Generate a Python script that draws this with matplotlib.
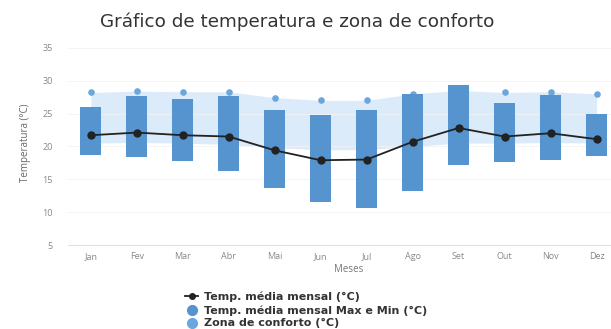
import matplotlib
matplotlib.use("Agg")
import matplotlib.pyplot as plt
from matplotlib.lines import Line2D
import numpy as np

plt.rcParams['font.family'] = ['Open Sans', 'DejaVu Sans']

meses = ['Jan', 'Fev', 'Mar', 'Abr', 'Mai', 'Jun', 'Jul', 'Ago', 'Set', 'Out', 'Nov', 'Dez']
temp_media = [21.7, 22.1, 21.7, 21.5, 19.4, 17.9, 18.0, 20.7, 22.8, 21.5, 22.0, 21.1]
temp_max = [26.0, 27.6, 27.2, 27.6, 25.6, 24.8, 25.5, 27.9, 29.3, 26.6, 27.8, 25.0]
temp_min = [18.7, 18.4, 17.8, 16.2, 13.7, 11.5, 10.6, 13.2, 17.2, 17.6, 18.0, 18.6]
conforto_sup = [28.2, 28.4, 28.3, 28.3, 27.4, 27.0, 27.0, 28.0, 28.5, 28.2, 28.3, 28.0]
conforto_inf = [20.5, 20.6, 20.5, 20.3, 19.8, 19.5, 19.5, 20.0, 20.5, 20.5, 20.6, 20.5]

cor_barra = '#5694d0'
cor_conforto = '#dcebf9'
cor_ponto = '#6aa6e0'

fig = plt.figure(figsize=(6.11, 3.29), dpi=100)
ax = fig.add_axes([0.111, 0.255, 0.918, 0.62])

x = np.arange(len(meses))

# zona de conforto
ax.fill_between(x, conforto_inf, conforto_sup, color=cor_conforto, lw=0, zorder=1)
ax.scatter(x, conforto_sup, s=14, color=cor_ponto, zorder=2)

# barras max/min
ax.bar(x, np.array(temp_max) - np.array(temp_min), bottom=temp_min, width=0.45,
       color=cor_barra, zorder=3)

# temperatura média
ax.plot(x, temp_media, color='#222222', lw=1.3, marker='o', ms=5, zorder=4)

ax.set_xlim(-0.5, len(meses) - 0.3)
ax.set_ylim(5, 36)
ax.set_yticks([5, 10, 15, 20, 25, 30, 35])
ax.set_xticks(x)
ax.set_xticklabels(meses)
ax.tick_params(axis='both', length=0, labelsize=6.5, colors='#888888')
ax.tick_params(axis='x', pad=5)
ax.tick_params(axis='y', pad=11)
ax.grid(axis='y', color='#f2f2f2', lw=0.6, zorder=0)
for s in ['top', 'right', 'left']:
    ax.spines[s].set_visible(False)
ax.spines['bottom'].set_color('#e0e0e0')

ax.set_ylabel('Temperatura (°C)', fontsize=7, color='#666666', labelpad=8)
ax.set_xlabel('Meses', fontsize=7, color='#777777', labelpad=2)

fig.text(0.487, 0.935, 'Gráfico de temperatura e zona de conforto', ha='center', va='center',
         fontsize=13.2, color='#333333', family='DejaVu Sans')

handles = [
    Line2D([0], [0], color='#222222', lw=1.3, marker='o', ms=4),
    Line2D([0], [0], color=cor_barra, lw=0, marker='o', ms=7),
    Line2D([0], [0], color=cor_ponto, lw=0, marker='o', ms=7),
]
labels = ['Temp. média mensal (°C)', 'Temp. média mensal Max e Min (°C)', 'Zona de conforto (°C)']
fig.legend(handles, labels, loc='upper left', bbox_to_anchor=(0.303, 0.113), frameon=False,
           prop={'size': 8, 'weight': 'bold', 'family': 'DejaVu Sans'}, labelcolor='#333333',
           handlelength=1.2, handletextpad=0.5, labelspacing=0.25, borderaxespad=0, borderpad=0)

fig.savefig('out.png', dpi=100)
